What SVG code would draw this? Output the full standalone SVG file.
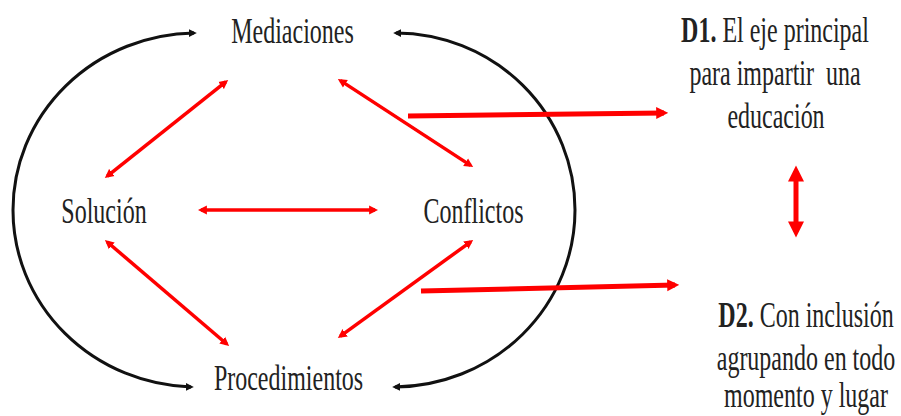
<svg xmlns="http://www.w3.org/2000/svg" width="901" height="416" viewBox="0 0 901 416">
<style>
.t{font-family:"Liberation Serif","Times New Roman",serif;font-size:24px;fill:#222;text-anchor:middle}
.b{font-weight:bold}
.blk{fill:none;stroke:#111;stroke-width:3}
.rt{fill:none;stroke:#ff0000;stroke-width:3.5}
.rk{fill:none;stroke:#ff0000;stroke-width:5}
</style>
<defs>
<marker id="mb" viewBox="0 0 10 10" refX="6.5" refY="5" markerWidth="8" markerHeight="10" markerUnits="userSpaceOnUse" orient="auto-start-reverse"><path d="M0,0 L10,5 L0,10 z" fill="#111"/></marker>
<marker id="ms" viewBox="0 0 10 10" refX="6.5" refY="5" markerWidth="9" markerHeight="10" markerUnits="userSpaceOnUse" orient="auto-start-reverse"><path d="M0,0 L10,5 L0,10 z" fill="#ff0000"/></marker>
<marker id="mt" viewBox="0 0 10 10" refX="6.5" refY="5" markerWidth="12" markerHeight="15" markerUnits="userSpaceOnUse" orient="auto-start-reverse"><path d="M0,0 L10,5 L0,10 z" fill="#ff0000"/></marker>
<marker id="mv" viewBox="0 0 10 10" refX="6.5" refY="5" markerWidth="22" markerHeight="16" markerUnits="userSpaceOnUse" orient="auto-start-reverse"><path d="M0,0 L10,5 L0,10 z" fill="#ff0000"/></marker>
</defs>
<g id="connectors">
<path class="blk" d="M194,33 A184,177 0 0 0 13,210 A184,177 0 0 0 191,387" marker-start="url(#mb)" marker-end="url(#mb)"/>
<path class="blk" d="M396,33 A180,177 0 0 1 575,210 A182,177 0 0 1 395,387" marker-start="url(#mb)" marker-end="url(#mb)"/>
<line class="rt" x1="225.7" y1="81.9" x2="107.3" y2="176.1" marker-start="url(#ms)" marker-end="url(#ms)"/>
<line class="rt" x1="340.5" y1="80.6" x2="470.5" y2="165.4" marker-start="url(#ms)" marker-end="url(#ms)"/>
<line class="rt" x1="201" y1="210" x2="375" y2="210" marker-start="url(#ms)" marker-end="url(#ms)"/>
<line class="rt" x1="107.3" y1="242" x2="226.7" y2="344" marker-start="url(#ms)" marker-end="url(#ms)"/>
<line class="rt" x1="470.6" y1="241.8" x2="340.4" y2="336.2" marker-start="url(#ms)" marker-end="url(#ms)"/>
<line class="rk" x1="408" y1="116" x2="664" y2="113" marker-end="url(#mt)"/>
<line class="rk" x1="421" y1="291" x2="675" y2="285" marker-end="url(#mt)"/>
<line class="rk" x1="796" y1="171" x2="796" y2="232" marker-start="url(#mv)" marker-end="url(#mv)"/>
</g>
<g id="mediaciones"><text class="t" transform="translate(292.5,43) scale(1,1.5)">Mediaciones</text></g>
<g id="solucion"><text class="t" transform="translate(104,223) scale(1,1.5)">Solución</text></g>
<g id="conflictos"><text class="t" transform="translate(473.5,223) scale(1,1.5)">Conflictos</text></g>
<g id="procedimientos"><text class="t" transform="translate(288.5,390) scale(1,1.5)">Procedimientos</text></g>
<g id="d1">
<text class="t" transform="translate(775,42) scale(1,1.5)"><tspan class="b">D1.</tspan> El eje principal</text>
<text class="t" xml:space="preserve" transform="translate(775,85) scale(1,1.5)">para impartir  una</text>
<text class="t" transform="translate(776,128) scale(1,1.5)">educación</text>
</g>
<g id="d2">
<text class="t" transform="translate(806,327) scale(1,1.5)"><tspan class="b">D2.</tspan> Con inclusión</text>
<text class="t" transform="translate(806,370) scale(1,1.5)">agrupando en todo</text>
<text class="t" transform="translate(806,407) scale(1,1.5)">momento y lugar</text>
</g>
</svg>
